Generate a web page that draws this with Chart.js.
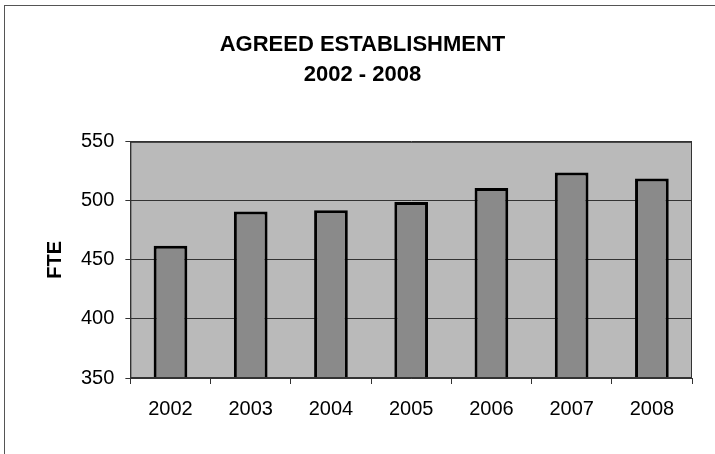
<!DOCTYPE html>
<html>
<head>
<meta charset="utf-8">
<title>Agreed Establishment 2002 - 2008</title>
<script src="https://cdn.jsdelivr.net/npm/chart.js@4/dist/chart.umd.min.js"></script>
<style>
    html, body { margin: 0; padding: 0; background: #fff; }
    #wrap { position: relative; width: 715px; height: 454px; }
</style>
</head>
<body>
<div id="wrap"><canvas id="fteChart"></canvas></div>
<script>
// 연도별 FTE 데이터
const years = ['2002', '2003', '2004', '2005', '2006', '2007', '2008'];
const fte = [462, 491, 492, 499, 511, 524, 519];
const yTicks = [350, 400, 450, 500, 550];

const fontFamily = '"Liberation Sans", Arial, sans-serif';

// 플롯 영역 배경/테두리, 바깥 테두리
const frame = {
    id: 'frame',
    beforeDraw(chart) {
        const c = chart.ctx;
        const a = chart.chartArea;
        c.save();
        c.strokeStyle = '#555';
        c.lineWidth = 1;
        c.strokeRect(4.5, 5.5, chart.width + 10, chart.height + 10);
        c.fillStyle = '#bababa';
        c.fillRect(a.left, a.top, a.right - a.left, a.bottom - a.top);
        c.restore();
    },
    afterDatasetsDraw(chart) {
        const c = chart.ctx;
        const a = chart.chartArea;
        c.save();
        c.strokeStyle = '#333';
        c.lineWidth = 1;
        c.strokeRect(a.left + 0.5, a.top + 0.5, a.right - a.left - 1, a.bottom - a.top - 1);
        c.restore();
    }
};

const ctx = document.getElementById('fteChart').getContext('2d');
const fteChart = new Chart(ctx, {
    type: 'bar',
    data: {
        labels: years,
        datasets: [
            {
                label: 'FTE',
                data: fte,
                backgroundColor: '#8a8a8a',
                borderColor: '#000',
                borderWidth: 3,
                borderSkipped: false,
                categoryPercentage: 1,
                barPercentage: 0.42
            }
        ]
    },
    options: {
        responsive: true,
        maintainAspectRatio: false,
        animation: false,
        layout: {
            padding: { left: 33, right: 23, top: 15, bottom: 20 }
        },
        plugins: {
            legend: { display: false },
            tooltip: { enabled: false },
            title: {
                display: true,
                text: ['AGREED ESTABLISHMENT', '2002 - 2008'],
                color: '#000',
                font: { family: fontFamily, size: 22, weight: 'bold', lineHeight: 1.36 },
                padding: { top: 15, bottom: 52 }
            }
        },
        scales: {
            x: {
                grid: {
                    display: true,
                    offset: true,
                    drawOnChartArea: false,
                    drawTicks: true,
                    tickLength: 6,
                    color: '#333'
                },
                border: { display: true, color: '#333' },
                ticks: {
                    color: '#000',
                    padding: 13,
                    font: { family: fontFamily, size: 20 }
                }
            },
            y: {
                min: 350,
                max: 550,
                afterBuildTicks(scale) {
                    scale.ticks = yTicks.map(v => ({ value: v }));
                },
                grid: {
                    color: '#333',
                    tickLength: 5
                },
                border: { display: true, color: '#333' },
                ticks: {
                    color: '#000',
                    padding: 11,
                    font: { family: fontFamily, size: 20 }
                },
                title: {
                    display: true,
                    text: 'FTE',
                    color: '#000',
                    font: { family: fontFamily, size: 20, weight: 'bold' },
                    padding: { top: 10, bottom: 3 }
                }
            }
        }
    },
    plugins: [frame]
});
</script>
</body>
</html>
